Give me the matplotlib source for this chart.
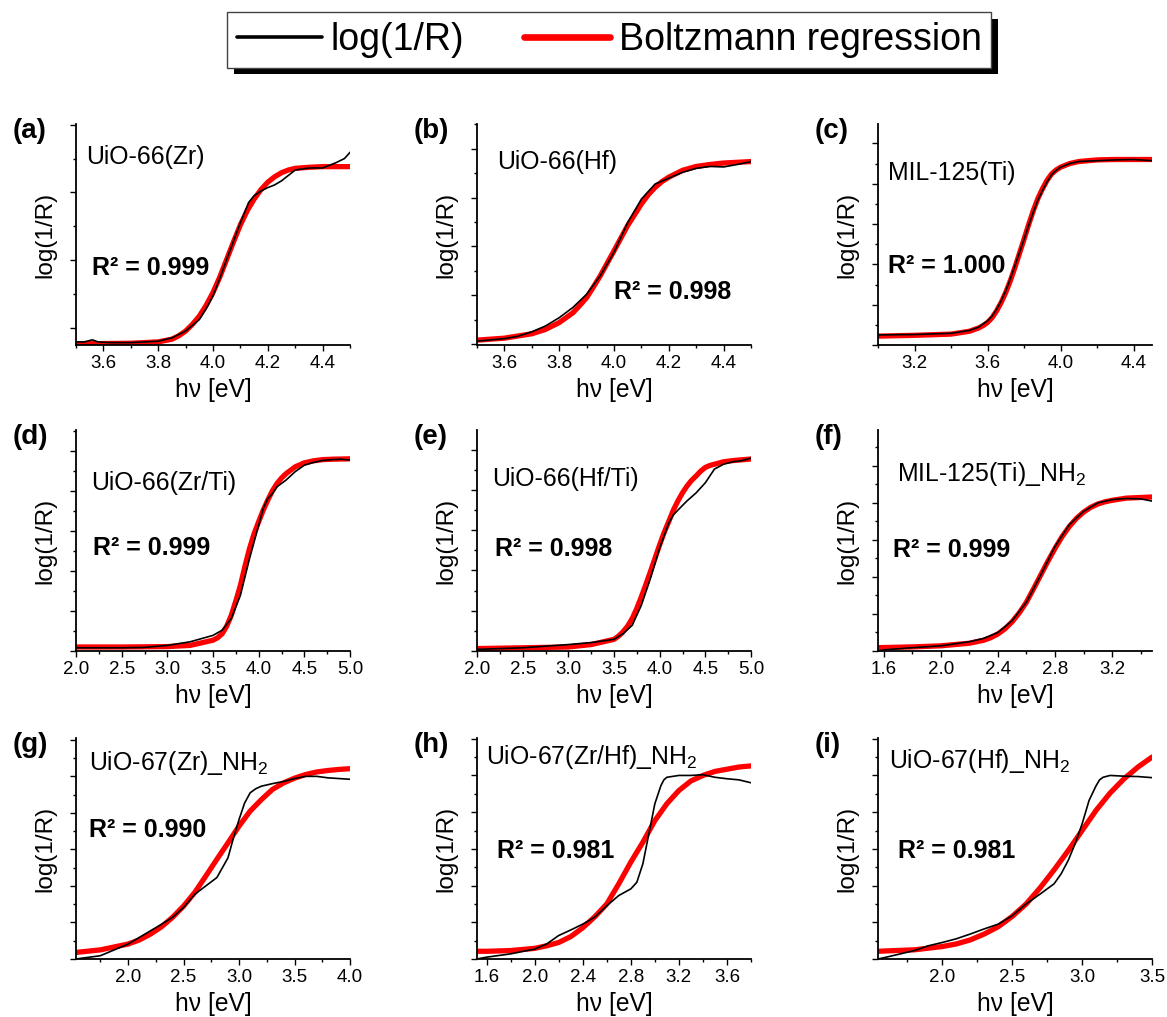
import matplotlib
matplotlib.use("Agg")
import matplotlib.pyplot as plt
from matplotlib.lines import Line2D
from matplotlib.patches import Rectangle
from matplotlib.ticker import MultipleLocator, FormatStrFormatter

# values; y is in arbitrary units (1 unit = 1 major tick)

# (a) UiO-66(Zr)
a_black_x = [3.50, 3.53, 3.56, 3.58, 3.62, 3.70, 3.80, 3.85, 3.90, 3.95, 3.975, 4.00, 4.025, 4.05,
             4.075, 4.10, 4.13, 4.15, 4.175, 4.20, 4.225, 4.25, 4.275, 4.30, 4.35, 4.40, 4.45, 4.48, 4.50]
a_black_y = [-0.21, -0.21, -0.18, -0.21, -0.22, -0.22, -0.20, -0.15, -0.05, 0.12, 0.28, 0.47, 0.73, 1.01,
             1.28, 1.55, 1.85, 1.95, 2.02, 2.07, 2.11, 2.17, 2.25, 2.33, 2.36, 2.36, 2.44, 2.50, 2.59]
a_red_x = [3.50, 3.70, 3.80, 3.85, 3.875, 3.90, 3.925, 3.95, 3.975, 4.00, 4.025, 4.05, 4.075, 4.10,
           4.125, 4.15, 4.175, 4.20, 4.225, 4.25, 4.275, 4.30, 4.35, 4.40, 4.50]
a_red_y = [-0.24, -0.23, -0.21, -0.17, -0.12, -0.05, 0.05, 0.17, 0.33, 0.52, 0.75, 1.01, 1.27, 1.52,
           1.73, 1.90, 2.04, 2.15, 2.23, 2.29, 2.33, 2.355, 2.37, 2.38, 2.38]

# (b) UiO-66(Hf)
b_black_x = [3.50, 3.60, 3.65, 3.70, 3.75, 3.80, 3.85, 3.90, 3.95, 4.00, 4.05, 4.10, 4.15, 4.20,
             4.25, 4.30, 4.35, 4.40, 4.45, 4.50]
b_black_y = [0.06, 0.11, 0.16, 0.25, 0.37, 0.54, 0.75, 1.02, 1.40, 1.88, 2.49, 2.97, 3.28, 3.40,
             3.52, 3.60, 3.64, 3.63, 3.68, 3.74]
b_red_x = [3.50, 3.60, 3.70, 3.75, 3.80, 3.85, 3.875, 3.90, 3.925, 3.95, 4.00, 4.05, 4.10, 4.125,
           4.15, 4.175, 4.20, 4.25, 4.30, 4.35, 4.40, 4.50]
b_red_y = [0.08, 0.12, 0.21, 0.30, 0.44, 0.64, 0.79, 0.95, 1.17, 1.40, 1.91, 2.43, 2.87, 3.06,
           3.21, 3.33, 3.42, 3.56, 3.64, 3.68, 3.71, 3.74]

# (c) MIL-125(Ti)
c_black_x = [3.00, 3.20, 3.40, 3.50, 3.55, 3.60, 3.625, 3.65, 3.675, 3.70, 3.725, 3.75, 3.775, 3.80,
             3.825, 3.85, 3.875, 3.90, 3.925, 3.95, 3.975, 4.00, 4.05, 4.10, 4.20, 4.30, 4.40, 4.50]
c_black_y = [0.25, 0.26, 0.29, 0.36, 0.44, 0.60, 0.72, 0.89, 1.10, 1.35, 1.65, 1.97, 2.30, 2.63,
             2.97, 3.29, 3.59, 3.83, 4.04, 4.22, 4.33, 4.41, 4.50, 4.55, 4.57, 4.59, 4.60, 4.57]
c_red_x = [3.00, 3.20, 3.40, 3.50, 3.55, 3.575, 3.60, 3.625, 3.65, 3.675, 3.70, 3.725, 3.75, 3.775,
           3.80, 3.825, 3.85, 3.875, 3.90, 3.925, 3.95, 3.975, 4.00, 4.05, 4.10, 4.20, 4.30, 4.50]
c_red_y = [0.22, 0.24, 0.27, 0.34, 0.42, 0.48, 0.56, 0.68, 0.85, 1.06, 1.31, 1.60, 1.93, 2.28,
           2.63, 2.99, 3.33, 3.63, 3.87, 4.08, 4.24, 4.34, 4.41, 4.50, 4.55, 4.59, 4.60, 4.60]

# (d) UiO-66(Zr/Ti)
d_black_x = [2.00, 2.50, 2.75, 3.00, 3.25, 3.50, 3.60, 3.70, 3.80, 3.90, 4.00, 4.05, 4.10, 4.15,
             4.20, 4.30, 4.40, 4.50, 4.60, 4.70, 4.80, 4.90, 5.00]
d_black_y = [0.08, 0.08, 0.09, 0.14, 0.23, 0.39, 0.52, 0.81, 1.39, 2.31, 3.14, 3.56, 3.81, 3.93,
             4.10, 4.27, 4.48, 4.64, 4.71, 4.76, 4.78, 4.79, 4.77]
d_red_x = [2.00, 2.50, 3.00, 3.25, 3.50, 3.55, 3.60, 3.65, 3.70, 3.75, 3.80, 3.85, 3.90, 3.95,
           4.00, 4.05, 4.10, 4.15, 4.20, 4.25, 4.30, 4.40, 4.50, 4.60, 4.70, 4.80, 5.00]
d_red_y = [0.10, 0.10, 0.11, 0.14, 0.27, 0.33, 0.43, 0.62, 0.89, 1.25, 1.64, 2.12, 2.56, 2.93,
           3.23, 3.52, 3.77, 4.00, 4.18, 4.32, 4.43, 4.60, 4.70, 4.75, 4.78, 4.79, 4.80]

# (e) UiO-66(Hf/Ti)
e_black_x = [2.00, 2.50, 3.00, 3.25, 3.50, 3.60, 3.70, 3.80, 3.90, 4.00, 4.10, 4.15, 4.20, 4.30,
             4.40, 4.50, 4.60, 4.70, 4.80, 4.90, 5.00]
e_black_y = [0.04, 0.08, 0.16, 0.21, 0.29, 0.43, 0.64, 1.14, 1.81, 2.56, 3.18, 3.38, 3.50, 3.73,
             3.93, 4.18, 4.52, 4.64, 4.70, 4.73, 4.79]
e_red_x = [2.00, 2.50, 3.00, 3.25, 3.50, 3.55, 3.60, 3.65, 3.70, 3.75, 3.80, 3.85, 3.90, 3.95,
           4.00, 4.05, 4.10, 4.15, 4.20, 4.25, 4.30, 4.35, 4.40, 4.45, 4.50, 4.55, 4.60, 4.70,
           4.80, 5.00]
e_red_y = [0.06, 0.08, 0.10, 0.16, 0.29, 0.37, 0.48, 0.62, 0.81, 1.06, 1.35, 1.66, 1.98, 2.31,
           2.64, 2.95, 3.22, 3.50, 3.73, 3.93, 4.10, 4.24, 4.35, 4.47, 4.56, 4.61, 4.64, 4.70,
           4.73, 4.77]

# (f) MIL-125(Ti)_NH2
f_black_x = [1.56, 1.60, 1.80, 2.00, 2.20, 2.30, 2.40, 2.50, 2.60, 2.70, 2.80, 2.90, 3.00, 3.10,
             3.20, 3.30, 3.40, 3.48]
f_black_y = [0.00, 0.03, 0.09, 0.14, 0.25, 0.34, 0.50, 0.82, 1.32, 2.05, 2.82, 3.41, 3.77, 4.00,
             4.09, 4.12, 4.11, 4.05]
f_red_x = [1.56, 1.80, 2.00, 2.20, 2.30, 2.35, 2.40, 2.45, 2.50, 2.55, 2.60, 2.65, 2.70, 2.75,
           2.80, 2.85, 2.90, 2.95, 3.00, 3.05, 3.10, 3.15, 3.20, 3.30, 3.48]
f_red_y = [0.09, 0.11, 0.14, 0.21, 0.29, 0.36, 0.46, 0.60, 0.79, 1.03, 1.32, 1.68, 2.05, 2.42,
           2.77, 3.09, 3.36, 3.58, 3.75, 3.88, 3.97, 4.03, 4.07, 4.13, 4.16]

# (g) UiO-67(Zr)_NH2
g_black_x = [1.53, 1.75, 2.00, 2.10, 2.20, 2.30, 2.40, 2.50, 2.60, 2.70, 2.80, 2.85, 2.90, 2.95,
             3.00, 3.05, 3.10, 3.15, 3.20, 3.30, 3.40, 3.50, 3.60, 3.70, 3.80, 3.90, 4.00]
g_black_y = [0.00, 0.09, 0.41, 0.59, 0.77, 0.95, 1.14, 1.41, 1.77, 2.00, 2.23, 2.50, 2.77, 3.32,
             3.82, 4.27, 4.55, 4.66, 4.73, 4.80, 4.86, 4.94, 5.00, 5.00, 4.96, 4.94, 4.92]
g_red_x = [1.53, 1.75, 2.00, 2.10, 2.20, 2.30, 2.40, 2.50, 2.60, 2.70, 2.80, 2.90, 3.00, 3.10,
           3.20, 3.30, 3.40, 3.50, 3.60, 3.70, 3.80, 3.90, 4.00]
g_red_y = [0.18, 0.25, 0.41, 0.52, 0.68, 0.88, 1.14, 1.45, 1.82, 2.27, 2.73, 3.18, 3.64, 4.05,
           4.36, 4.64, 4.82, 4.95, 5.05, 5.12, 5.16, 5.19, 5.21]

# (h) UiO-67(Zr/Hf)_NH2
h_black_x = [1.52, 1.60, 1.80, 2.00, 2.10, 2.20, 2.30, 2.40, 2.50, 2.60, 2.70, 2.80, 2.85, 2.90,
             2.95, 3.00, 3.05, 3.075, 3.10, 3.20, 3.30, 3.40, 3.50, 3.60, 3.70, 3.80]
h_black_y = [0.00, 0.05, 0.14, 0.27, 0.41, 0.64, 0.79, 0.95, 1.14, 1.45, 1.73, 1.91, 2.09, 2.59,
             3.41, 4.23, 4.72, 4.88, 4.95, 5.00, 5.00, 5.02, 4.95, 4.91, 4.88, 4.80]
h_red_x = [1.52, 1.60, 1.80, 2.00, 2.10, 2.20, 2.30, 2.40, 2.50, 2.60, 2.70, 2.80, 2.90, 3.00,
           3.10, 3.20, 3.30, 3.40, 3.50, 3.60, 3.70, 3.80]
h_red_y = [0.21, 0.21, 0.23, 0.29, 0.36, 0.45, 0.61, 0.85, 1.15, 1.50, 2.05, 2.64, 3.18, 3.77,
           4.23, 4.59, 4.85, 5.00, 5.11, 5.17, 5.23, 5.26]

# (i) UiO-67(Hf)_NH2
i_black_x = [1.54, 1.60, 1.80, 1.90, 2.00, 2.10, 2.20, 2.30, 2.40, 2.50, 2.60, 2.70, 2.80, 2.85,
             2.90, 2.95, 3.00, 3.05, 3.10, 3.125, 3.15, 3.20, 3.30, 3.40, 3.50]
i_black_y = [0.00, 0.05, 0.23, 0.36, 0.45, 0.55, 0.68, 0.82, 0.95, 1.18, 1.50, 1.77, 2.05, 2.32,
             2.68, 3.14, 3.68, 4.32, 4.72, 4.88, 4.95, 5.00, 4.98, 4.97, 4.94]
i_red_x = [1.54, 1.60, 1.80, 2.00, 2.10, 2.20, 2.30, 2.40, 2.50, 2.60, 2.70, 2.80, 2.90, 3.00,
           3.10, 3.20, 3.30, 3.40, 3.50]
i_red_y = [0.21, 0.22, 0.25, 0.34, 0.41, 0.52, 0.68, 0.88, 1.16, 1.50, 1.94, 2.43, 2.95, 3.50,
           4.05, 4.52, 4.91, 5.23, 5.50]

letters = ['a', 'b', 'c', 'd', 'e', 'f', 'g', 'h', 'i']
names = ['UiO-66(Zr)', 'UiO-66(Hf)', 'MIL-125(Ti)', 'UiO-66(Zr/Ti)', 'UiO-66(Hf/Ti)',
         'MIL-125(Ti)_NH$_2$', 'UiO-67(Zr)_NH$_2$', 'UiO-67(Zr/Hf)_NH$_2$', 'UiO-67(Hf)_NH$_2$']
r2_values = ['0.999', '0.998', '1.000', '0.999', '0.998', '0.999', '0.990', '0.981', '0.981']
x_limits = [(3.5, 4.5), (3.5, 4.5), (3.0, 4.5), (2.0, 5.0), (2.0, 5.0),
            (1.56, 3.48), (1.53, 4.0), (1.52, 3.80), (1.54, 3.5)]
x_major = [0.2, 0.2, 0.4, 0.5, 0.5, 0.4, 0.5, 0.4, 0.5]
y_limits = [(-0.256, 3.01), (-0.02, 4.51), (0, 5.48), (0, 5.52), (0, 5.49),
            (0, 5.97), (0, 6.05), (0, 6.02), (0, 6.02)]

black_x = [a_black_x, b_black_x, c_black_x, d_black_x, e_black_x, f_black_x, g_black_x, h_black_x, i_black_x]
black_y = [a_black_y, b_black_y, c_black_y, d_black_y, e_black_y, f_black_y, g_black_y, h_black_y, i_black_y]
red_x = [a_red_x, b_red_x, c_red_x, d_red_x, e_red_x, f_red_x, g_red_x, h_red_x, i_red_x]
red_y = [a_red_y, b_red_y, c_red_y, d_red_y, e_red_y, f_red_y, g_red_y, h_red_y, i_red_y]

# layout (pixels of the 1167x1017 canvas, and axes fractions for the labels)
W, H = 1167, 1017
COL_LEFT = [76, 477, 878]
ROW_TOP = [124, 430, 738]
AX_W, AX_H = 274, 221
NAME_POS = [(0.036, 0.85), (0.073, 0.83), (0.036, 0.78), (0.055, 0.76), (0.055, 0.78),
            (0.07, 0.80), (0.047, 0.887), (0.033, 0.914), (0.04, 0.896)]
R2_POS = [(0.058, 0.347), (0.50, 0.24), (0.036, 0.356), (0.062, 0.464), (0.066, 0.46),
          (0.055, 0.455), (0.047, 0.585), (0.073, 0.49), (0.073, 0.49)]

plt.rcParams['font.family'] = 'Liberation Sans'
plt.rcParams['mathtext.fontset'] = 'custom'
plt.rcParams['mathtext.rm'] = 'Liberation Sans'
plt.rcParams['mathtext.it'] = 'Liberation Sans:italic'
plt.rcParams['mathtext.bf'] = 'Liberation Sans:bold'


def draw_panel(fig, k):
    """One log(1/R) spectrum with its Boltzmann fit."""
    row, col = divmod(k, 3)
    left = COL_LEFT[col] / W
    bottom = 1 - (ROW_TOP[row] + AX_H) / H
    ax = fig.add_axes([left, bottom, AX_W / W, AX_H / H])

    ax.plot(red_x[k], red_y[k], color='#ff0000', lw=3.8, zorder=2,
            solid_capstyle='round', solid_joinstyle='round')
    ax.plot(black_x[k], black_y[k], color='black', lw=1.2, zorder=3, solid_joinstyle='round')

    ax.set_xlim(*x_limits[k])
    ax.set_ylim(*y_limits[k])
    ax.xaxis.set_major_locator(MultipleLocator(x_major[k]))
    ax.xaxis.set_minor_locator(MultipleLocator(x_major[k] / 2))
    ax.xaxis.set_major_formatter(FormatStrFormatter('%.1f'))
    ax.yaxis.set_major_locator(MultipleLocator(1.0))
    ax.yaxis.set_minor_locator(MultipleLocator(0.5))

    for side in ['top', 'right']:
        ax.spines[side].set_visible(False)
    for side in ['left', 'bottom']:
        ax.spines[side].set_linewidth(1.3)
    ax.tick_params(which='both', direction='out', width=1.0, labelsize=13.5, pad=3)
    ax.tick_params(which='major', length=4.5)
    ax.tick_params(which='minor', length=2.5)
    ax.tick_params(axis='y', labelleft=False)

    ax.set_xlabel('h\u03bd [eV]', fontsize=17.7)
    ax.xaxis.set_label_coords(0.5, -0.15)
    ax.set_ylabel('log(1/R)', fontsize=17.5)
    ax.yaxis.set_label_coords(-0.07, 0.5)

    ax.text(-0.23, 0.97, '(%s)' % letters[k], transform=ax.transAxes, fontsize=20,
            fontweight='bold', ha='left', va='center')
    ax.text(NAME_POS[k][0], NAME_POS[k][1], names[k], transform=ax.transAxes, fontsize=17.9,
            ha='left', va='center')
    ax.text(R2_POS[k][0], R2_POS[k][1], 'R\u00b2 = ' + r2_values[k], transform=ax.transAxes,
            fontsize=18, fontweight='bold', ha='left', va='center')
    return ax


def draw_legend(fig):
    """Shared legend on top with a hard black drop shadow."""
    handles = [Line2D([], [], color='black', lw=2.6, solid_capstyle='round'),
               Line2D([], [], color='#ff0000', lw=4.8, solid_capstyle='round')]
    leg = fig.legend(handles, ['log(1/R)', 'Boltzmann regression'], loc='upper center',
                     bbox_to_anchor=(609 / W, 1 - 12 / H), ncol=2, fontsize=27,
                     frameon=True, fancybox=False, framealpha=1, edgecolor='#444444',
                     handlelength=2.27, handletextpad=0.24, columnspacing=1.6,
                     borderpad=0.26, borderaxespad=0)
    leg.get_frame().set_linewidth(1.0)
    leg.set_zorder(5)
    fig.canvas.draw()
    bb = leg.get_frame().get_window_extent()
    inv = fig.transFigure.inverted()
    (x0, y0), (x1, y1) = inv.transform([(bb.x0 + 7, bb.y0 - 7), (bb.x1 + 7, bb.y1 - 7)])
    shadow = Rectangle((x0, y0), x1 - x0, y1 - y0, transform=fig.transFigure,
                       facecolor='black', edgecolor='none', zorder=4)
    fig.add_artist(shadow)


def main():
    fig = plt.figure(figsize=(W / 100, H / 100), dpi=100)
    for k in range(9):
        draw_panel(fig, k)
    draw_legend(fig)
    fig.savefig('out.png', dpi=100)


if __name__ == "__main__":
    main()
